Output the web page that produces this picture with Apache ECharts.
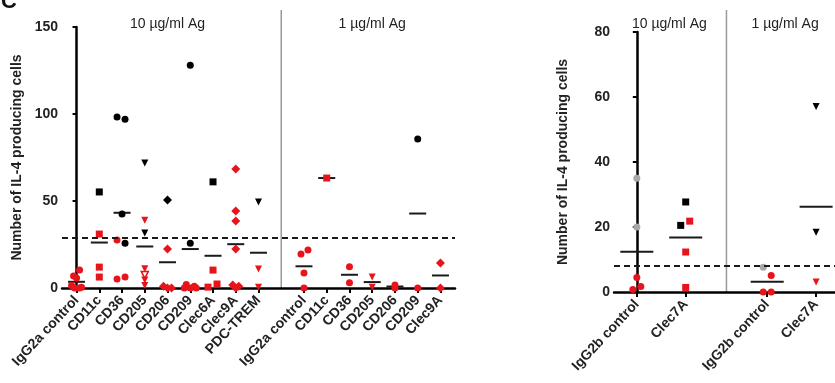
<!DOCTYPE html>
<html>
<head>
<meta charset="utf-8">
<script src="https://cdn.jsdelivr.net/npm/echarts@6/dist/echarts.min.js"></script>
<style>
  html, body { margin: 0; background: #fff; }
  #chart { width: 835px; height: 383px; }
</style>
</head>
<body>
<div id="chart"></div>
<script>
const font = '"Liberation Sans", Arial, Helvetica, sans-serif';

// left panel: 10 ug/ml (0-8), gap (9), 1 ug/ml (10-16)
const catsA = ['IgG2a control', 'CD11c', 'CD36', 'CD205', 'CD206', 'CD209', 'Clec6A', 'Clec9A', 'PDC-TREM', '',
  'IgG2a control', 'CD11c', 'CD36', 'CD205', 'CD206', 'CD209', 'Clec9A'];
const valuesA = [
  [10.3, 6.9, 5.7, 1.5, 0.5, 0, 0],
  [55.2, 31, 12, 6.3],
  [98.3, 97, 42.5, 27.6, 25.7, 5.2, 6.3],
  [71.8, 39, 31.6, 11, 7.5, 4.6, 1.5],
  [50.6, 22.4, 1, 0, 0],
  [128, 25.7, 2, 1, 0, 0, 0],
  [61, 10.3, 2.3, 0.5],
  [68.4, 44.3, 38.5, 22.4, 1.7, 1, 0],
  [49.4, 10.9, 0.5],
  [],
  [19.5, 21.8, 8.6, 0],
  [63.2],
  [12.2, 3],
  [6.3, 0.5],
  [1.7, 0],
  [85.6, 0],
  [14.4, 0]
];
// k black, r red, g grey, o open red
const colorsA = ['rrrrrrr', 'krrr', 'kkkrkrr', 'krkrorr', 'krrrr', 'kkrrrrr', 'krrr', 'rrrrrrr', 'krr', '',
  'rrrr', 'r', 'rr', 'rr', 'rr', 'kr', 'rr'];
const shapesA = ['circle', 'rect', 'circle', 'triangle-down', 'diamond', 'circle', 'rect', 'diamond', 'triangle-down', '',
  'circle', 'rect', 'circle', 'triangle-down', 'circle', 'circle', 'diamond'];
const jitterA = [
  [3, -3, 0, -5, 5, -2, 3],
  [0, 0, 0, 0],
  [-5, 3, 0, -5, 3, -5, 3],
  [0, 0, 0, 0, 0, 0, 0],
  [0, 0, -4, 0, 4],
  [0, 0, -4, 4, -6, 0, 6],
  [0, 0, 4, -5],
  [0, 0, 0, 0, -3, 3, 0],
  [0, 0, 0],
  [],
  [-3, 4, 0, 0],
  [0],
  [0, 0],
  [0, 0],
  [0, 0],
  [0, 0],
  [0, 0]
];
const cutA = 29;

// right panel
const catsB = ['IgG2b control', 'Clec7A', 'IgG2b control', 'Clec7A'];
const posB = [0, 3, 8, 11];
const valuesB = [
  [35, 20, 4.5, 1.7, 0.8],
  [27.7, 20.5, 21.8, 12.3, 1.4],
  [7.6, 5.1, 0, 0],
  [57.1, 18.4, 3.1]
];
const colorsB = ['ggrrr', 'kkrrr', 'grrr', 'kkr'];
const shapesB = ['circle', 'rect', 'circle', 'triangle-down'];
const jitterB = [
  [0, 0, 0, 4, -4],
  [0, -5, 4, 0, 0],
  [-4, 4, -4, 4],
  [0, 0, 0]
];
const cutB = 8;

const RED = '#e8141c', BLACK = '#000', GREY = '#a8a8a8';

function buildPoints(values, colors, shapes, jitter, pos, size) {
  const out = [];
  values.forEach((vals, i) => {
    vals.forEach((v, j) => {
      const c = colors[i][j];
      out.push({
        value: [pos[i], v],
        symbol: shapes[i] === 'triangle-down' ? 'triangle' : shapes[i],
        symbolRotate: shapes[i] === 'triangle-down' ? 180 : 0,
        symbolSize: shapes[i] === 'diamond' ? size + 2 : size,
        symbolOffset: [jitter[i][j], 0],
        itemStyle: c === 'o'
          ? {color: '#fff', borderColor: RED, borderWidth: 1.5, opacity: 1}
          : {color: c === 'k' ? BLACK : c === 'g' ? GREY : RED, opacity: 1}
      });
    });
  });
  return out;
}

function buildMeans(values, pos) {
  const out = [];
  values.forEach((vals, i) => {
    if (!vals.length) return;
    const m = vals.reduce((a, b) => a + b, 0) / vals.length;
    out.push([pos[i], m]);
  });
  return out;
}

const posA = catsA.map((c, i) => i);
const tickA = posA.filter(i => catsA[i] !== '');

const axisLine = {show: true, lineStyle: {color: '#000', width: 2.5}};
const yName = 'Number of IL-4 producing cells';
const nameStyle = {fontFamily: font, fontWeight: 'bold', fontSize: 14, color: '#222'};
const xLabel = {rotate: 47, margin: 10, fontFamily: font, fontWeight: 'bold', fontSize: 14, color: '#222'};

const chart = echarts.init(document.getElementById('chart'));
chart.setOption({
  animation: false,
  grid: [
    {left: 62, top: 27, width: 393, height: 261},
    {left: 614, top: 32, width: 221, height: 260}
  ],
  xAxis: [
    {
      type: 'value', gridIndex: 0, min: -0.64, max: 16.64,
      axisLine: axisLine,
      splitLine: {show: false},
      axisTick: {show: true, customValues: tickA, length: 5, lineStyle: {width: 2, color: '#000'}},
      axisLabel: Object.assign({customValues: tickA, formatter: v => catsA[Math.round(v)]}, xLabel)
    },
    {
      type: 'value', gridIndex: 1, min: -1.4, max: 12.16,
      axisLine: axisLine,
      splitLine: {show: false},
      axisTick: {show: true, customValues: posB, length: 5, lineStyle: {width: 2, color: '#000'}},
      axisLabel: Object.assign({customValues: posB, formatter: v => catsB[posB.indexOf(Math.round(v))]}, xLabel)
    }
  ],
  yAxis: [
    {
      type: 'value', gridIndex: 0, min: 0, max: 150, interval: 50,
      axisLine: axisLine,
      splitLine: {show: false},
      axisTick: {show: true, length: 4, lineStyle: {width: 2, color: '#000'}},
      axisLabel: {fontFamily: font, fontWeight: 'bold', fontSize: 14, color: '#222', margin: 4},
      name: yName, nameLocation: 'middle', nameGap: 38, nameRotate: 90, nameTextStyle: nameStyle
    },
    {
      type: 'value', gridIndex: 1, min: 0, max: 80, interval: 20,
      axisLine: axisLine,
      splitLine: {show: false},
      axisTick: {show: true, length: 4, lineStyle: {width: 2, color: '#000'}},
      axisLabel: {fontFamily: font, fontWeight: 'bold', fontSize: 14, color: '#222', margin: 4},
      name: yName, nameLocation: 'middle', nameGap: 44, nameRotate: 90, nameTextStyle: nameStyle
    }
  ],
  series: [
    {
      type: 'scatter', xAxisIndex: 0, yAxisIndex: 0, z: 2,
      symbol: 'rect', symbolSize: [17, 2], itemStyle: {color: '#1a1a1a', opacity: 1},
      data: buildMeans(valuesA, posA),
      markLine: {
        silent: true, symbol: ['none', 'none'], label: {show: false},
        lineStyle: {type: [6, 4], color: '#1a1a1a', width: 2},
        data: [{yAxis: cutA}]
      }
    },
    {
      type: 'scatter', xAxisIndex: 0, yAxisIndex: 0, z: 3,
      data: buildPoints(valuesA, colorsA, shapesA, jitterA, posA, 7)
    },
    {
      type: 'scatter', xAxisIndex: 1, yAxisIndex: 1, z: 2,
      symbol: 'rect', symbolSize: [33, 2], itemStyle: {color: '#1a1a1a', opacity: 1},
      data: buildMeans(valuesB, posB),
      markLine: {
        silent: true, symbol: ['none', 'none'], label: {show: false},
        lineStyle: {type: [6, 4], color: '#1a1a1a', width: 2},
        data: [{yAxis: cutB}]
      }
    },
    {
      type: 'scatter', xAxisIndex: 1, yAxisIndex: 1, z: 3,
      data: buildPoints(valuesB, colorsB, shapesB, jitterB, posB, 7)
    }
  ]
});

// panel dividers and headings
const px = (axis, v) => chart.convertToPixel({xAxisIndex: axis}, v);
const headStyle = {fontFamily: font, fontSize: 14, fill: '#222', align: 'center', verticalAlign: 'middle'};
const dividers = [
  {x: px(0, 9), bottom: 288},
  {x: px(1, 5.5), bottom: 292}
];
const heads = [
  {x: px(0, 4), text: '10 µg/ml Ag'},
  {x: px(0, 13), text: '1 µg/ml Ag'},
  {x: px(1, 2), text: '10 µg/ml Ag'},
  {x: px(1, 9.1), text: '1 µg/ml Ag'}
];
chart.setOption({
  graphic: [
    ...dividers.map(d => ({
      type: 'line', silent: true,
      shape: {x1: d.x, y1: 10, x2: d.x, y2: d.bottom},
      style: {stroke: '#9a9a9a', lineWidth: 1.5}
    })),
    ...heads.map(h => ({
      type: 'text', silent: true, x: h.x, y: 24,
      style: Object.assign({text: h.text}, headStyle)
    })),
    {
      type: 'text', silent: true, x: 1, y: -9,
      style: {text: 'C', fontFamily: font, fontWeight: 'bold', fontSize: 22, fill: '#111'}
    }
  ]
});
</script>
</body>
</html>
